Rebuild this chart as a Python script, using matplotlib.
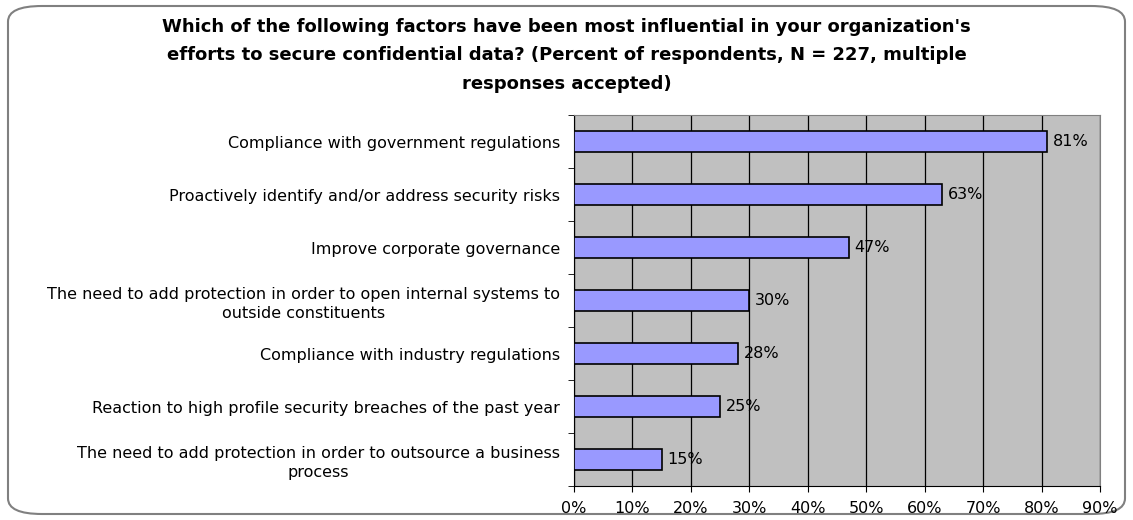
import numpy as np
import matplotlib
matplotlib.use("Agg")
import matplotlib.pyplot as plt
from matplotlib.patches import FancyBboxPatch
from matplotlib.ticker import FixedLocator, PercentFormatter

categories = [
    "Compliance with government regulations",
    "Proactively identify and/or address security risks",
    "Improve corporate governance",
    "The need to add protection in order to open internal systems to\noutside constituents",
    "Compliance with industry regulations",
    "Reaction to high profile security breaches of the past year",
    "The need to add protection in order to outsource a business\nprocess",
]
values = [81, 63, 47, 30, 28, 25, 15]
x_ticks = [0, 10, 20, 30, 40, 50, 60, 70, 80, 90]
title = ("Which of the following factors have been most influential in your organization's\n"
         "efforts to secure confidential data? (Percent of respondents, N = 227, multiple\n"
         "responses accepted)")

plt.rcParams["font.family"] = ["DejaVu Sans"]

fig = plt.figure(figsize=(11.33, 5.20), dpi=100)
W, H = 1133, 520
ax = fig.add_axes([574 / W, 1 - 486 / H, (1100 - 574) / W, (486 - 115) / H])

# rounded outer frame
frame = FancyBboxPatch((8 / W, 6 / H), (W - 16) / W, (H - 12) / H,
                       boxstyle="round,pad=0,rounding_size=0.03",
                       transform=fig.transFigure, facecolor="white",
                       edgecolor="#808080", linewidth=1.5, zorder=-10)
fig.patches.append(frame)

n = len(categories)
ypos = np.arange(n)
ax.set_facecolor("#C0C0C0")
ax.barh(ypos, values, height=0.4, color="#9999FF", edgecolor="black",
        linewidth=1.2, zorder=3)
for y, v in zip(ypos, values):
    ax.text(v + 1.0, y, f"{v}%", va="center", ha="left", fontsize=11.5, zorder=4)

ax.set_xlim(0, 90)
ax.set_ylim(n - 0.5, -0.5)
ax.xaxis.set_major_locator(FixedLocator(x_ticks))
ax.xaxis.set_major_formatter(PercentFormatter(decimals=0))
ax.grid(axis="x", color="black", linewidth=0.9, zorder=1)

ax.set_yticks(ypos)
ax.set_yticklabels(categories, fontsize=11.5, ha="right",
                   multialignment="center", linespacing=1.35)
ax.tick_params(axis="y", length=0, pad=10)
ax.yaxis.set_minor_locator(FixedLocator(np.arange(-0.5, n, 1.0)))
ax.tick_params(axis="y", which="minor", length=4, direction="out")
ax.tick_params(axis="x", labelsize=11.5, length=4, direction="out", pad=7)

for side in ["top", "right"]:
    ax.spines[side].set_color("#808080")
for side in ["left", "bottom"]:
    ax.spines[side].set_color("black")

fig.text(0.5, 1 - 18 / H, title, ha="center", va="top", fontsize=13,
         fontweight="bold", linespacing=1.75)

fig.savefig("out.png", dpi=100)
